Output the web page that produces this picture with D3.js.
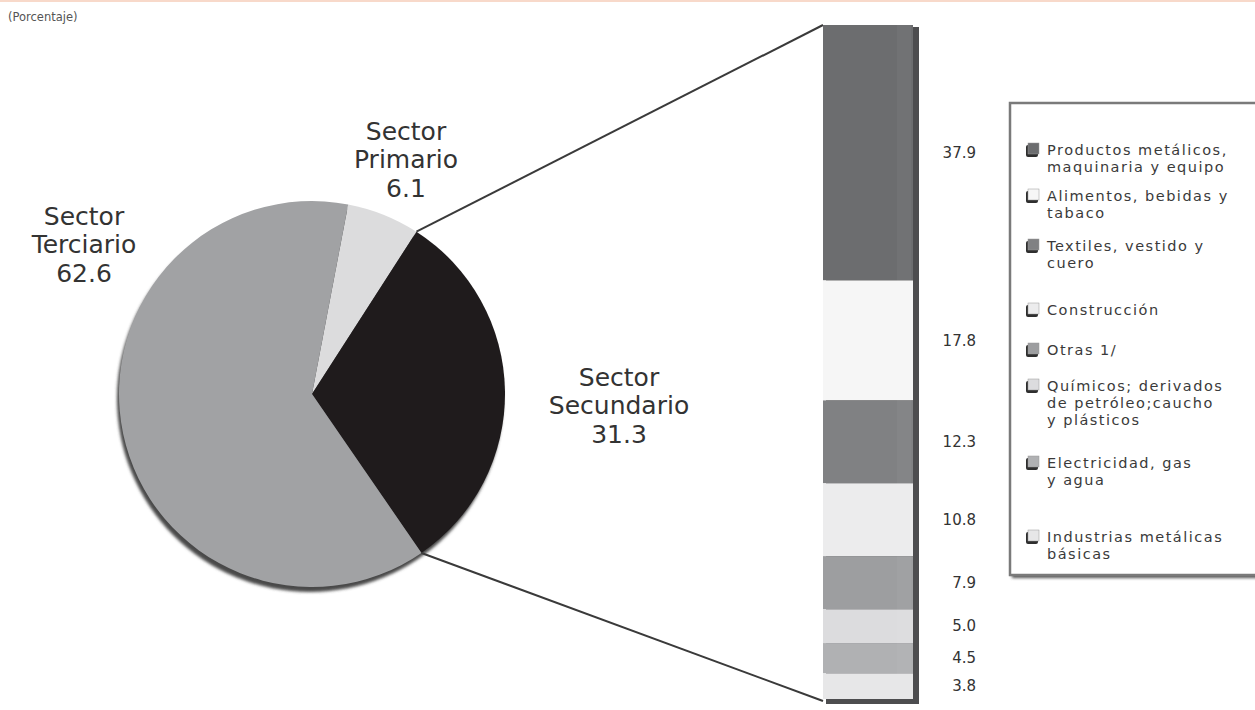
<!DOCTYPE html>
<html><head><meta charset="utf-8">
<script src="https://cdn.jsdelivr.net/npm/d3@7"></script>
<style>body{margin:0;background:#fff;}svg{display:block;font-family:"DejaVu Sans",Verdana,sans-serif;}</style>
</head><body>
<svg id="c" width="1255" height="710"></svg>
<script>
// ---- data ----
const subtitle = "(Porcentaje)";
const sectors = ["Sector Primario", "Sector Secundario", "Sector Terciario"];
const sectorValues = [6.1, 31.3, 62.6];
const sectorLabelLines = [["Sector","Primario","6.1"],["Sector","Secundario","31.3"],["Sector","Terciario","62.6"]];
const branches = ["Productos metálicos, maquinaria y equipo","Alimentos, bebidas y tabaco","Textiles, vestido y cuero","Construcción","Otras 1/","Químicos; derivados de petróleo;caucho y plásticos","Electricidad, gas y agua","Industrias metálicas básicas"];
const branchLegendLines = [["Productos metálicos,","maquinaria y equipo"],["Alimentos, bebidas y","tabaco"],["Textiles, vestido y","cuero"],["Construcción"],["Otras 1/"],["Químicos; derivados","de petróleo;caucho","y plásticos"],["Electricidad, gas","y agua"],["Industrias metálicas","básicas"]];
const branchValues = [37.9, 17.8, 12.3, 10.8, 7.9, 5.0, 4.5, 3.8];
const branchLabels = ["37.9","17.8","12.3","10.8","7.9","5.0","4.5","3.8"];

// ---- styles / layout ----
const sectorColors = ["#dcdcdd", "#1f1b1c", "#a1a2a4"];
const branchColors = ["#6c6d6f","#f6f6f6","#808183","#ececed","#9d9ea0","#dcdcde","#b0b1b3","#e7e7e8"];
const W = 1255, H = 710;
const cx = 312, cy = 394, R = 193;
const barX0 = 823, barX1 = 913, barTop = 25, barBot = 699;
const svg = d3.select("#c");
const defs = svg.append("defs");
defs.append("filter").attr("id","blur").append("feGaussianBlur").attr("stdDeviation",1.6);

// top rule
svg.append("line").attr("x1",0).attr("x2",W).attr("y1",1).attr("y2",1).attr("stroke","#f6cdb8").attr("stroke-width",1.5);
svg.append("text").attr("x",8).attr("y",21).attr("font-size",11.5).attr("fill","#555").text(subtitle);

// ---- pie ----
const startA = 10.8 * Math.PI / 180;
const pie = d3.pie().sort(null).value(d => d).startAngle(startA).endAngle(startA + 2*Math.PI);
const arcs = pie(sectorValues);
const arc = d3.arc().innerRadius(0).outerRadius(R);
const gPie = svg.append("g").attr("transform", `translate(${cx},${cy})`);
gPie.append("circle").attr("cx",-2).attr("cy",5).attr("r",R).attr("fill","#4a4a4a").attr("filter","url(#blur)");
gPie.selectAll("path.s").data(arcs).join("path").attr("class","s")
  .attr("d", arc).attr("fill", (d,i) => sectorColors[i]);

// sector labels
const labelPos = [[406,131],[619,377],[84,216]];
sectorLabelLines.forEach((lines,i) => {
  const t = svg.append("text").attr("text-anchor","middle").attr("font-size",25).attr("fill","#333");
  lines.forEach((l,j) => t.append("tspan").attr("x",labelPos[i][0]).attr("y",labelPos[i][1] + j*28.5).attr("dy","0.35em").text(l));
});

// ---- stacked bar ----
const total = d3.sum(branchValues);
const y = d3.scaleLinear().domain([0,total]).range([barTop, barBot]);
let cum = 0;
const segs = branchValues.map((v,i) => { const s = {i, v, y0: cum, y1: cum + v}; cum += v; return s; });

// connector lines from secondary slice edges
const sec = arcs[1];
const p0 = [cx + R*Math.sin(sec.startAngle), cy - R*Math.cos(sec.startAngle)];
const p1 = [cx + R*Math.sin(sec.endAngle), cy - R*Math.cos(sec.endAngle)];
svg.append("line").attr("x1",p0[0]).attr("y1",p0[1]).attr("x2",barX0).attr("y2",y(0)).attr("stroke","#3a3a3a").attr("stroke-width",2);
svg.append("line").attr("x1",p1[0]).attr("y1",p1[1]).attr("x2",barX0).attr("y2",y(total)+2).attr("stroke","#3a3a3a").attr("stroke-width",2);

// bar shadow
svg.append("rect").attr("x",barX0+3).attr("y",y(0)+2).attr("width",barX1-barX0+3).attr("height",y(total)-y(0)+3).attr("fill","#4d4d4f");
svg.selectAll("rect.seg").data(segs).join("rect").attr("class","seg")
  .attr("x",barX0).attr("width",barX1-barX0)
  .attr("y",d => y(d.y0)).attr("height",d => y(d.y1)-y(d.y0))
  .attr("fill",d => branchColors[d.i]);
svg.append("rect").attr("x",barX1-16).attr("y",y(0)).attr("width",14).attr("height",y(total)-y(0)).attr("fill","#fff").attr("opacity",0.035);

svg.selectAll("text.val").data(segs).join("text").attr("class","val")
  .attr("x",976).attr("text-anchor","end")
  .attr("y",d => (y(d.y0)+y(d.y1))/2).attr("dy","0.35em")
  .attr("font-size",15).attr("fill","#333")
  .text(d => branchLabels[d.i]);

// ---- legend ----
const lg = svg.append("g");
lg.append("rect").attr("x",1012).attr("y",106).attr("width",260).attr("height",472).attr("fill","#555").attr("filter","url(#blur)");
lg.append("rect").attr("x",1010).attr("y",103).attr("width",260).attr("height",472).attr("fill","#fff").attr("stroke","#7a7a7a").attr("stroke-width",2.5);
const legendY = [150, 196, 246, 310, 350, 386, 463, 537];
branchLegendLines.forEach((lines,i) => {
  const yy = legendY[i];
  lg.append("rect").attr("x",1026).attr("y",yy-5).attr("width",12).attr("height",12).attr("rx",2).attr("fill","#2e2e2e");
  lg.append("rect").attr("x",1028).attr("y",yy-7).attr("width",11).attr("height",11).attr("fill",branchColors[i]).attr("stroke","#999").attr("stroke-width",0.5);
  const t = lg.append("text").attr("font-size",14.5).attr("letter-spacing","1.5px").attr("fill","#3a3a3a");
  lines.forEach((l,j) => t.append("tspan").attr("x",1047).attr("y",yy + j*17).attr("dy","0.35em").text(l));
});
</script>
</body></html>
